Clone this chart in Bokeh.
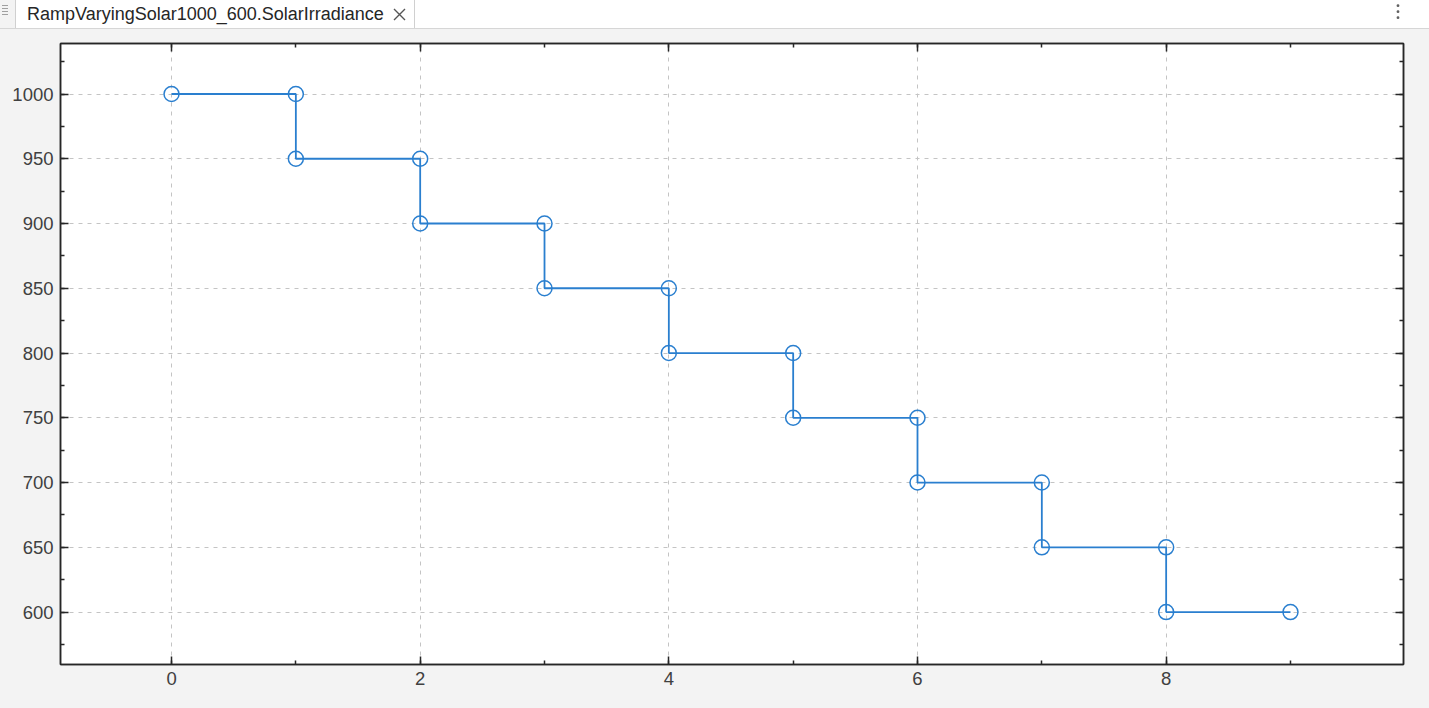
from bokeh.plotting import figure
from bokeh.models import (Range1d, LinearAxis, SingleIntervalTicker, Div, ColumnDataSource,
                          CustomJSTickFormatter)
from bokeh.layouts import column
from bokeh.embed import file_html
from bokeh.resources import INLINE

# ---- data ----
time = [0, 1, 1, 2, 2, 3, 3, 4, 4, 5, 5, 6, 6, 7, 7, 8, 8, 9]
irradiance = [1000, 1000, 950, 950, 900, 900, 850, 850, 800, 800,
              750, 750, 700, 700, 650, 650, 600, 600]
signal_name = "RampVaryingSolar1000_600.SolarIrradiance"

x_range = (-0.893, 9.909)
y_range = (559.5, 1039.0)

AX = "#262626"
LBL = "#404040"
BLUE = "#2a7fcf"
BG = "#f3f3f3"
FONT = "Liberation Sans"
W = 1429

# ---- tab bar ----
tab_html = f"""
<div style="position:relative;width:{W}px;height:29px;background:#ffffff;border-bottom:1px solid #d6d6d6;box-sizing:border-box;overflow:hidden;font-family:'{FONT}',Arial,sans-serif;">
  <div style="position:absolute;left:0;top:0;width:15px;height:28px;background:{BG};">
    <svg width="15" height="28" style="position:absolute;left:0;top:0">
      <g stroke="#a0a0a0" stroke-width="1">
        <line x1="2" y1="5.5" x2="8" y2="5.5"/>
        <line x1="2" y1="8.5" x2="8" y2="8.5"/>
        <line x1="2" y1="11.5" x2="8" y2="11.5"/>
        <line x1="2" y1="14.5" x2="8" y2="14.5"/>
      </g>
    </svg>
  </div>
  <div style="position:absolute;left:15px;top:0;width:400px;height:28px;border-left:1px solid #d0d0d0;border-right:1px solid #d0d0d0;box-sizing:border-box;background:#ffffff;">
    <span style="position:absolute;left:11px;top:5px;font-size:18px;line-height:1;color:#262626;white-space:nowrap;">{signal_name}</span>
    <svg width="16" height="16" style="position:absolute;left:376px;top:7px">
      <path d="M2 2 L13 13 M13 2 L2 13" stroke="#555555" stroke-width="1.4" fill="none"/>
    </svg>
  </div>
  <svg width="10" height="24" style="position:absolute;left:1393px;top:0">
    <g fill="#606060">
      <circle cx="5" cy="5.7" r="1.4"/>
      <circle cx="5" cy="11.7" r="1.4"/>
      <circle cx="5" cy="17.7" r="1.4"/>
    </g>
  </svg>
</div>
"""
tab = Div(text=tab_html, width=W, height=29, margin=(0, 0, 0, 0))

# ---- figure ----
p = figure(width=W, height=679, output_backend="svg", toolbar_location=None,
           x_range=Range1d(*x_range), y_range=Range1d(*y_range),
           x_axis_location=None, y_axis_location=None,
           min_border_left=60, min_border_right=26, min_border_top=14, min_border_bottom=44,
           background_fill_color="#ffffff", border_fill_color=BG,
           outline_line_color=AX, outline_line_width=1.5, margin=(0, 0, 0, 0))

xt = SingleIntervalTicker(interval=2, num_minor_ticks=2)
yt = SingleIntervalTicker(interval=50, num_minor_ticks=2)


def style_axis(ax, show_labels, standoff):
    ax.axis_line_color = AX
    ax.axis_line_width = 1.5
    ax.major_tick_line_color = AX
    ax.minor_tick_line_color = AX
    ax.major_tick_line_width = 1.5
    ax.minor_tick_line_width = 1.5
    ax.major_tick_in = 8
    ax.major_tick_out = 0
    ax.minor_tick_in = 4
    ax.minor_tick_out = 0
    if show_labels:
        ax.major_label_text_font = FONT
        ax.major_label_text_font_size = "18.5px"
        ax.major_label_text_color = LBL
        ax.major_label_standoff = standoff
    else:
        ax.formatter = CustomJSTickFormatter(code="return '';")
        ax.major_label_text_font_size = "1px"
        ax.major_label_standoff = 0


bottom = LinearAxis(ticker=xt)
style_axis(bottom, True, 7)
top = LinearAxis(ticker=xt)
style_axis(top, False, 0)
left = LinearAxis(ticker=yt)
style_axis(left, True, 7)
right = LinearAxis(ticker=yt)
style_axis(right, False, 0)

p.add_layout(bottom, "below")
p.add_layout(top, "above")
p.add_layout(left, "left")
p.add_layout(right, "right")

p.xgrid.ticker = xt
p.ygrid.ticker = yt
for g in (p.xgrid, p.ygrid):
    g.grid_line_color = "#c4c4c4"
    g.grid_line_dash = "4 5"
    g.grid_line_width = 1

src = ColumnDataSource(dict(time=time, irradiance=irradiance))
p.line("time", "irradiance", source=src, line_color=BLUE, line_width=1.8)
p.scatter("time", "irradiance", source=src, marker="circle", size=15,
          fill_color=None, line_color=BLUE, line_width=1.5)

layout = column(tab, p, spacing=0)
layout.styles = {"background-color": BG}

open("out.html", "w").write(file_html(layout, INLINE))
